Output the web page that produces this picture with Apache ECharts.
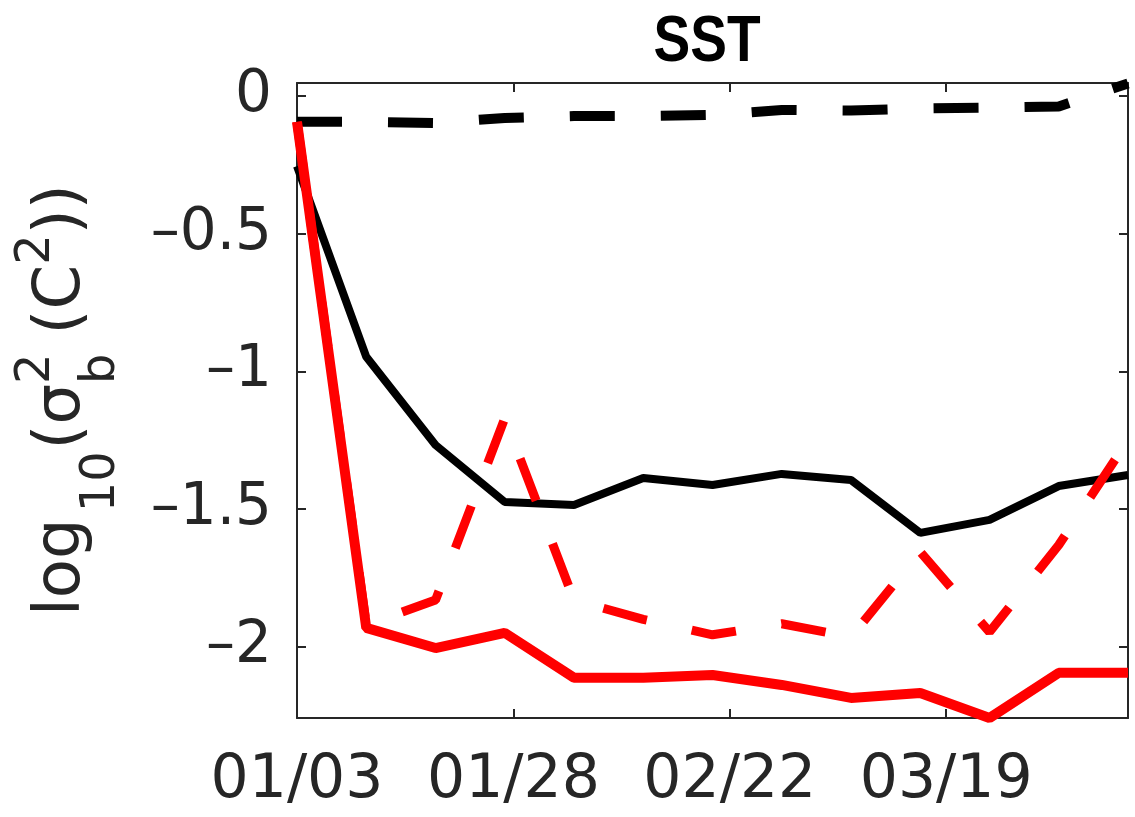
<!DOCTYPE html>
<html>
<head>
<meta charset="utf-8">
<script src="https://cdn.jsdelivr.net/npm/echarts@6/dist/echarts.min.js"></script>
<style>
  html, body { margin: 0; padding: 0; background: #ffffff; }
  #chart { width: 1135px; height: 817px; }
</style>
</head>
<body>
<div id="chart"></div>
<script>
// Sample times: days after 01/03, one analysis every 8 days
const sampleDays = [0, 8, 16, 24, 32, 40, 48, 56, 64, 72, 80, 88, 96];

// log10 of background error variance for SST, four experiments
const blackDashed = [-0.094, -0.094, -0.098, -0.080, -0.073, -0.073, -0.069, -0.051, -0.053, -0.045, -0.042, -0.038, 0.045];
const blackSolid  = [-0.255, -0.947, -1.267, -1.474, -1.485, -1.387, -1.412, -1.372, -1.394, -1.586, -1.539, -1.416, -1.376];
const redSolid    = [-0.094, -1.931, -2.004, -1.949, -2.112, -2.112, -2.102, -2.138, -2.185, -2.167, -2.258, -2.094, -2.094];
const redDashed   = [-0.094, -1.920, -1.830, -1.170, -1.830, -1.900, -1.956, -1.916, -1.964, -1.655, -1.946, -1.630, -1.249];

// Axis ticks
const xTickDays   = [0, 25, 50, 75];
const xTickLabels = ['01/03', '01/28', '02/22', '03/19'];
const yTickValues = [0, -0.5, -1, -1.5, -2];
const yTickLabels = ['0', '–0.5', '–1', '–1.5', '–2'];

const AXIS_COLOR = '#262626';
const TICK_FONT = 'DejaVu Sans';

const pairs = arr => sampleDays.map((d, i) => [d, arr[i]]);

const axisLineStyle = { color: AXIS_COLOR, width: 2 };

function xAxisDef(position, withLabels) {
  return {
    type: 'value', position: position, min: 0, max: 96,
    axisLine: { show: true, onZero: false, lineStyle: axisLineStyle },
    axisTick: { show: true, inside: true, length: 9, customValues: xTickDays, lineStyle: axisLineStyle },
    axisLabel: withLabels ? {
      show: true, customValues: xTickDays, margin: 33,
      formatter: v => xTickLabels[xTickDays.indexOf(v)],
      fontSize: 60, fontFamily: TICK_FONT, color: AXIS_COLOR
    } : { show: false },
    splitLine: { show: false }
  };
}

function yAxisDef(position, withLabels) {
  return {
    type: 'value', position: position, min: -2.258, max: 0.047,
    axisLine: { show: true, onZero: false, lineStyle: axisLineStyle },
    axisTick: { show: true, inside: true, length: 9, customValues: yTickValues, lineStyle: axisLineStyle },
    axisLabel: withLabels ? {
      show: true, customValues: yTickValues, margin: 25,
      formatter: v => yTickLabels[yTickValues.indexOf(v)],
      fontSize: 58, fontFamily: TICK_FONT, color: AXIS_COLOR
    } : { show: false },
    splitLine: { show: false }
  };
}

function lineSeries(name, arr, color, width, dash, z) {
  return {
    name: name, type: 'line', data: pairs(arr),
    xAxisIndex: 0, yAxisIndex: 0,
    symbol: 'none', showSymbol: false, clip: false, z: z,
    lineStyle: { color: color, width: width, type: dash ? [45, 46] : 'solid', cap: 'butt' },
    emphasis: { disabled: true }
  };
}

// Y axis title: log10(σ_b^2 (C^2)), set piece by piece along the rotated baseline
// [text, font size, advance position, baseline shift]
const yTitleParts = [
  ['log', 64, -6, 0],
  ['10', 48, 97.7, 33],
  ['(', 64, 160.6, 0],
  ['σ', 64, 185.6, 0],
  ['2', 48, 226, -32],
  ['b', 48, 226, 33],
  ['(', 64, 275.6, 0],
  ['C', 64, 300.6, 0],
  ['2', 48, 345.3, -32],
  [')', 64, 375.8, 0],
  [')', 64, 400.8, 0]
];

const yTitle = {
  type: 'group', x: 85, y: 610, rotation: Math.PI / 2,
  children: yTitleParts.map(p => ({
    type: 'text',
    style: {
      text: p[0], x: p[2], y: p[3] - 0.346 * p[1],
      font: p[1] + 'px "DejaVu Sans"',
      align: 'left', textAlign: 'left',
      verticalAlign: 'middle', textVerticalAlign: 'middle',
      fill: AXIS_COLOR
    }
  }))
};

const plotTitle = {
  type: 'group', x: 707, y: 43, scaleX: 0.86,
  children: [{
    type: 'text',
    style: {
      text: 'SST', x: 0, y: 0,
      font: 'bold 64px "Liberation Sans"',
      align: 'center', textAlign: 'center',
      verticalAlign: 'middle', textVerticalAlign: 'middle',
      fill: '#000000'
    }
  }]
};

const chart = echarts.init(document.getElementById('chart'), null, { renderer: 'canvas' });
chart.setOption({
  animation: false,
  backgroundColor: '#ffffff',
  grid: { left: 297, right: 7, top: 83, bottom: 99, containLabel: false, outerBoundsMode: 'none' },
  xAxis: [xAxisDef('bottom', true), xAxisDef('top', false)],
  yAxis: [yAxisDef('left', true), yAxisDef('right', false)],
  graphic: [plotTitle, yTitle],
  series: [
    lineSeries('black dashed', blackDashed, '#000000', 10, true, 2),
    lineSeries('black solid', blackSolid, '#000000', 8, false, 3),
    lineSeries('red solid', redSolid, '#ff0000', 10, false, 4),
    lineSeries('red dashed', redDashed, '#ff0000', 9, true, 5)
  ]
});
</script>
</body>
</html>
